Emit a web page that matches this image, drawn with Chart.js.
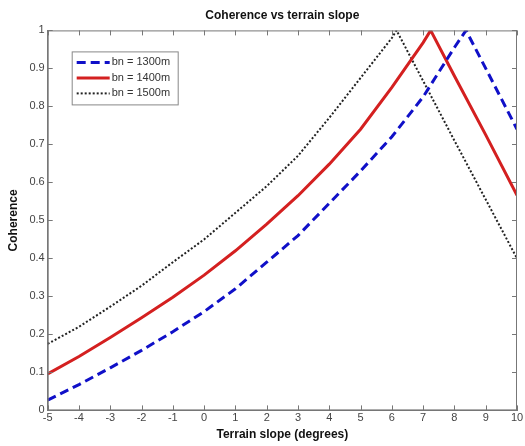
<!DOCTYPE html>
<html>
<head>
<meta charset="utf-8">
<script src="https://cdn.jsdelivr.net/npm/chart.js@4.4.1/dist/chart.umd.min.js"></script>
<style>
  body { margin: 0; background: #fff; }
</style>
</head>
<body>
<canvas id="cohChart" width="525" height="446"></canvas>
<script>
// terrain slope (deg) sampled at integer steps
const slopeDeg = [-5, -4, -3, -2, -1, 0, 1, 2, 3, 4, 5, 6, 7, 8, 9, 10];

// coherence
const coh1300 = [0.027, 0.068, 0.112, 0.158, 0.207, 0.26, 0.32, 0.39, 0.46, 0.545, 0.63, 0.72, 0.825, 0.955, 0.90, 0.74];
const coh1400 = [0.096, 0.142, 0.192, 0.244, 0.298, 0.356, 0.42, 0.49, 0.565, 0.648, 0.74, 0.85, 0.968, 0.88, 0.725, 0.566];
const coh1500 = [0.175, 0.22, 0.273, 0.328, 0.39, 0.45, 0.52, 0.59, 0.67, 0.77, 0.875, 0.98, 0.867, 0.71, 0.555, 0.40];

// peak of each curve [slope, coherence]
const peak1300 = [8.37, 1.0];
const peak1400 = [7.24, 1.0];
const peak1500 = [6.15, 1.0];

const seriesLabels = ['bn = 1300m', 'bn = 1400m', 'bn = 1500m'];
const xTicks = [-5, 10, 1];
const yTicks = [0, 1, 0.1];

function toPoints(ys, peak) {
    const pts = slopeDeg.map((x, i) => ({ x: x, y: ys[i] }));
    pts.push({ x: peak[0], y: peak[1] });
    pts.sort((a, b) => a.x - b.x);
    return pts;
}

const tickFont = { family: 'Liberation Sans', size: 11 };
const tickColor = '#444';

// frame, inward ticks and the boxed legend, the way matlab draws them
const matlabAxes = {
    id: 'matlabAxes',
    afterDraw(chart) {
        const ctx = chart.ctx;
        const a = chart.chartArea;
        const xs = chart.scales.x;
        const ys = chart.scales.y;
        ctx.save();
        ctx.strokeStyle = '#777';
        ctx.lineWidth = 1;
        ctx.strokeRect(a.left + 0.5, a.top + 0.5, a.right - a.left - 1, a.bottom - a.top - 1);
        ctx.beginPath();
        xs.ticks.forEach(t => {
            const px = Math.round(xs.getPixelForValue(t.value)) + 0.5;
            ctx.moveTo(px, a.bottom); ctx.lineTo(px, a.bottom - 5);
            ctx.moveTo(px, a.top); ctx.lineTo(px, a.top + 5);
        });
        ys.ticks.forEach(t => {
            const py = Math.round(ys.getPixelForValue(t.value)) + 0.5;
            ctx.moveTo(a.left, py); ctx.lineTo(a.left + 5, py);
            ctx.moveTo(a.right, py); ctx.lineTo(a.right - 5, py);
        });
        ctx.stroke();

        // legend
        const bx = a.left + 24, by = a.top + 21, bw = 106, bh = 53;
        ctx.fillStyle = '#fff';
        ctx.fillRect(bx, by, bw, bh);
        ctx.strokeStyle = '#888';
        ctx.strokeRect(bx + 0.5, by + 0.5, bw, bh);
        ctx.font = '11px "Liberation Sans"';
        ctx.textBaseline = 'middle';
        chart.data.datasets.forEach((ds, i) => {
            const ly = by + 11 + i * 15.5;
            ctx.beginPath();
            ctx.strokeStyle = ds.borderColor;
            ctx.lineWidth = ds.borderWidth;
            ctx.setLineDash(ds.borderDash || []);
            ctx.moveTo(bx + 5, ly);
            ctx.lineTo(bx + 38, ly);
            ctx.stroke();
            ctx.setLineDash([]);
            ctx.fillStyle = '#333';
            ctx.fillText(ds.label, bx + 40, ly);
        });
        ctx.restore();
    }
};

const config = {
    type: 'line',
    data: {
        datasets: [{
            label: seriesLabels[0],
            data: toPoints(coh1300, peak1300),
            borderColor: '#1010c8',
            borderWidth: 3,
            borderDash: [9, 5],
            pointRadius: 0,
            tension: 0
        }, {
            label: seriesLabels[1],
            data: toPoints(coh1400, peak1400),
            borderColor: '#d42020',
            borderWidth: 3,
            pointRadius: 0,
            tension: 0
        }, {
            label: seriesLabels[2],
            data: toPoints(coh1500, peak1500),
            borderColor: '#222',
            borderWidth: 2,
            borderDash: [2, 2],
            pointRadius: 0,
            tension: 0
        }]
    },
    options: {
        responsive: false,
        animation: false,
        layout: { padding: { left: 6, right: 8, top: 6, bottom: 4 } },
        plugins: {
            legend: { display: false },
            tooltip: { enabled: false },
            title: {
                display: true,
                text: 'Coherence vs terrain slope',
                fullSize: false,
                color: '#111',
                font: { family: 'Liberation Sans', size: 12, weight: 'bold' },
                padding: { top: 2, bottom: 8 }
            }
        },
        scales: {
            x: {
                type: 'linear',
                min: xTicks[0],
                max: xTicks[1],
                ticks: { stepSize: xTicks[2], color: tickColor, font: tickFont, padding: 1 },
                grid: { drawOnChartArea: false, drawTicks: false },
                border: { color: '#777' },
                title: {
                    display: true,
                    text: 'Terrain slope (degrees)',
                    color: '#111',
                    font: { family: 'Liberation Sans', size: 12, weight: 'bold' },
                    padding: { top: 2, bottom: 0 }
                }
            },
            y: {
                min: yTicks[0],
                max: yTicks[1],
                ticks: {
                    stepSize: yTicks[2],
                    color: tickColor,
                    font: tickFont,
                    padding: 3,
                    callback: v => String(Number(v.toFixed(1)))
                },
                grid: { drawOnChartArea: false, drawTicks: false },
                border: { color: '#777' },
                title: {
                    display: true,
                    text: 'Coherence',
                    color: '#111',
                    font: { family: 'Liberation Sans', size: 12, weight: 'bold' },
                    padding: { top: 0, bottom: 6 }
                }
            }
        }
    },
    plugins: [matlabAxes]
};

const cohChart = new Chart(document.getElementById('cohChart'), config);
</script>
</body>
</html>
